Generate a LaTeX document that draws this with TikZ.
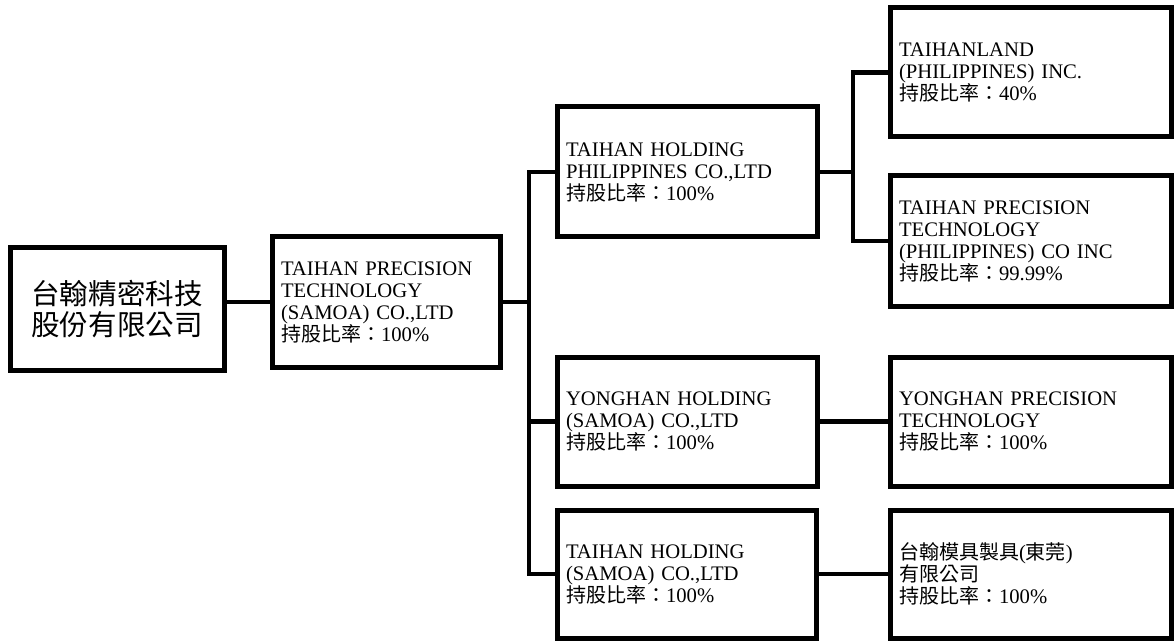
\documentclass[tikz,border=0pt]{standalone}
\usepackage{fontspec}
\setmainfont{Liberation Serif}
\newfontfamily\cjkf{Noto Sans CJK TC}[Scale=0.968]
\begin{document}
\begin{tikzpicture}[x=0.75pt,y=-0.75pt,
  box/.style={draw, line width=3.75pt, inner xsep=0pt, inner ysep=0pt,
    align=left, font=\fontsize{15.5}{16.5}\selectfont},
  conn/.style={line width=3.2pt}]
\useasboundingbox (0,0) rectangle (1176,641);

% boxes
\node[box, align=center, font=\fontsize{22.1}{23.3}\selectfont,
  minimum width=160.5pt, minimum height=91.5pt] (A) at (117,309)
  {{\cjkf 台翰精密科技}\\{\cjkf 股份有限公司}};
\node[box, text width=157.5pt, minimum width=171pt, minimum height=97.5pt] (B) at (386,302)
  {TAIHAN PRECISION\\TECHNOLOGY\\(SAMOA) CO.,LTD\\{\cjkf 持股比率：}100\%};
\node[box, text width=181.5pt, minimum width=195pt, minimum height=97.5pt] (C) at (687,172)
  {TAIHAN HOLDING\\PHILIPPINES CO.,LTD\\{\cjkf 持股比率：}100\%};
\node[box, text width=197.25pt, minimum width=210.75pt, minimum height=96.75pt] (D) at (1030.5,72.5)
  {TAIHANLAND\\(PHILIPPINES) INC.\\{\cjkf 持股比率：}40\%};
\node[box, text width=197.25pt, minimum width=210.75pt, minimum height=97.5pt] (E) at (1030.5,241)
  {TAIHAN PRECISION\\TECHNOLOGY\\(PHILIPPINES) CO INC\\{\cjkf 持股比率：}99.99\%};
\node[box, text width=181.5pt, minimum width=195pt, minimum height=96.75pt] (F) at (687,421.5)
  {YONGHAN HOLDING\\(SAMOA) CO.,LTD\\{\cjkf 持股比率：}100\%};
\node[box, text width=197.25pt, minimum width=210.75pt, minimum height=96.75pt] (G) at (1030.5,421.5)
  {YONGHAN PRECISION\\TECHNOLOGY\\{\cjkf 持股比率：}100\%};
\node[box, text width=180.75pt, minimum width=194.25pt, minimum height=96pt] (H) at (686.5,574)
  {TAIHAN HOLDING\\(SAMOA) CO.,LTD\\{\cjkf 持股比率：}100\%};
\node[box, text width=197.25pt, minimum width=210.75pt, minimum height=96pt] (I) at (1030.5,574)
  {{\cjkf 台翰模具製具}({\cjkf 東莞})\\{\cjkf 有限公司}\\{\cjkf 持股比率：}100\%};

% trunk coordinates
\coordinate (t1) at (529,0);
\coordinate (t2) at (853,0);

% connectors
\draw[conn] (A.east |- B.west) -- (B.west);
\draw[conn] (B.east) -- (B.east -| t1);
\draw[conn] (C.west) -- (C.west -| t1) -- (H.west -| t1) -- (H.west);
\draw[conn] (F.west -| t1) -- (F.west);
\draw[conn] (C.east) -- (C.east -| t2);
\draw[conn] (D.west) -- (D.west -| t2) -- (E.west -| t2) -- (E.west);
\draw[conn] (F.east) -- (G.west);
\draw[conn] (H.east) -- (I.west);
\end{tikzpicture}
\end{document}
